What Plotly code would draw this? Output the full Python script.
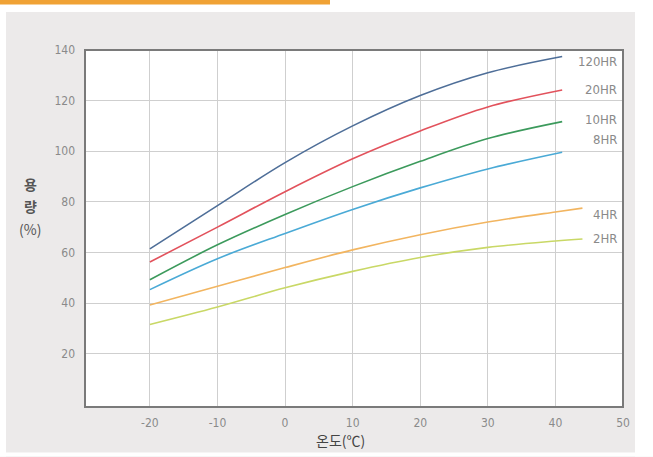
import plotly.graph_objects as go

temps_a = [-20, -10, 0, 10, 20, 30, 41]
temps_b = [-20, -10, 0, 10, 20, 30, 40, 44]

hr120 = [61.4, 78.5, 95.5, 110, 122, 131, 137.4]
hr20 = [56.2, 70, 84, 97, 108, 117.5, 124.2]
hr10 = [49.2, 63, 75, 86, 96, 105, 111.7]
hr8 = [45.3, 57.5, 67.5, 77, 85.5, 93, 99.6]
hr4 = [39.2, 46.6, 54, 61, 67, 72, 76, 77.5]
hr2 = [31.5, 38.4, 46, 52.5, 58, 62, 64.5, 65.3]

series = [
    ("120HR", temps_a, hr120, "#4E6E98", 135.4),
    ("20HR", temps_a, hr20, "#E2525C", 124.2),
    ("10HR", temps_a, hr10, "#3C9A5C", 112.4),
    ("8HR", temps_a, hr8, "#4AAAD6", 104.5),
    ("4HR", temps_b, hr4, "#F2B560", 74.9),
    ("2HR", temps_b, hr2, "#C9D866", 65.4),
]

x_ticks = [-20, -10, 0, 10, 20, 30, 40, 50]
y_ticks = [20, 40, 60, 80, 100, 120, 140]

label_font = dict(size=13, color="#8a8a8a",
                  family="Liberation Sans Narrow, DejaVu Sans Condensed, Roboto")

fig = go.Figure()
for name, xs, ys, color, ly in series:
    fig.add_trace(go.Scatter(x=xs, y=ys, mode="lines", name=name,
                             line=dict(color=color, width=1.6, shape="spline", smoothing=1.0),
                             hoverinfo="skip"))
    fig.add_annotation(x=49.4, y=ly, xref="x", yref="y", text=name, showarrow=False,
                       xanchor="right", yanchor="middle", font=label_font)

W, H = 653, 457
L, R, T, B = 85, 623, 50, 407.5
pw, ph = R - L, B - T

def px(x):
    return (x - L) / pw

def py(y):
    return (B - y) / ph

shapes = []
white = "#ffffff"
shapes.append(dict(type="rect", xref="paper", yref="paper", x0=px(0), x1=px(W), y0=py(12), y1=py(0),
                   fillcolor=white, line=dict(width=0), layer="below"))
shapes.append(dict(type="rect", xref="paper", yref="paper", x0=px(0), x1=px(6), y0=py(H), y1=py(0),
                   fillcolor=white, line=dict(width=0), layer="below"))
shapes.append(dict(type="rect", xref="paper", yref="paper", x0=px(635), x1=px(W), y0=py(H), y1=py(0),
                   fillcolor=white, line=dict(width=0), layer="below"))
shapes.append(dict(type="rect", xref="paper", yref="paper", x0=px(0), x1=px(W), y0=py(H), y1=py(453),
                   fillcolor=white, line=dict(width=0), layer="below"))
shapes.append(dict(type="rect", xref="paper", yref="paper", x0=px(0), x1=px(330), y0=py(4.5), y1=py(0),
                   fillcolor="#F0A235", line=dict(width=0), layer="below"))
shapes.append(dict(type="rect", xref="paper", yref="paper", x0=0, x1=1, y0=0, y1=1,
                   fillcolor="rgba(0,0,0,0)", line=dict(width=2, color="#7a7a7a"), layer="above"))

tick_font = dict(size=12, color="#8a8a8a", family="Liberation Sans Narrow, DejaVu Sans Condensed, Roboto")

fig.update_layout(
    width=W, height=H,
    margin=dict(l=L, r=W - R, t=T, b=H - B, pad=0),
    paper_bgcolor="#ECEAEA",
    plot_bgcolor="#ffffff",
    showlegend=False,
    shapes=shapes,
    xaxis=dict(range=[-29.6, 50], tickvals=x_ticks, ticktext=[str(v) for v in x_ticks],
               showgrid=True, gridcolor="#cfcfcf", gridwidth=1, zeroline=False,
               showline=False, ticks="", ticklabelstandoff=7, tickfont=tick_font),
    yaxis=dict(range=[-1.1, 140], tickvals=y_ticks, ticktext=[str(v) for v in y_ticks],
               showgrid=True, gridcolor="#cfcfcf", gridwidth=1, zeroline=False,
               showline=False, ticks="", ticklabelstandoff=9, tickfont=tick_font),
)

ytitle_font = dict(size=14, color="#555555", family="Noto Sans CJK KR")
for txt, yy in [("<b>용</b>", 184), ("<b>량</b>", 206), ("(%)", 229)]:
    fig.add_annotation(x=px(30), y=py(yy), xref="paper", yref="paper", text=txt,
                       showarrow=False, xanchor="center", yanchor="middle", font=ytitle_font)
fig.add_annotation(x=px(340), y=py(441), xref="paper", yref="paper", text="온도(℃)",
                   showarrow=False, xanchor="center", yanchor="middle",
                   font=dict(size=14, color="#444444", family="Noto Sans CJK KR"))

fig.write_html("out.html", config={"displayModeBar": False},
               post_script="document.body.style.margin='0px';document.body.style.overflow='hidden';")
